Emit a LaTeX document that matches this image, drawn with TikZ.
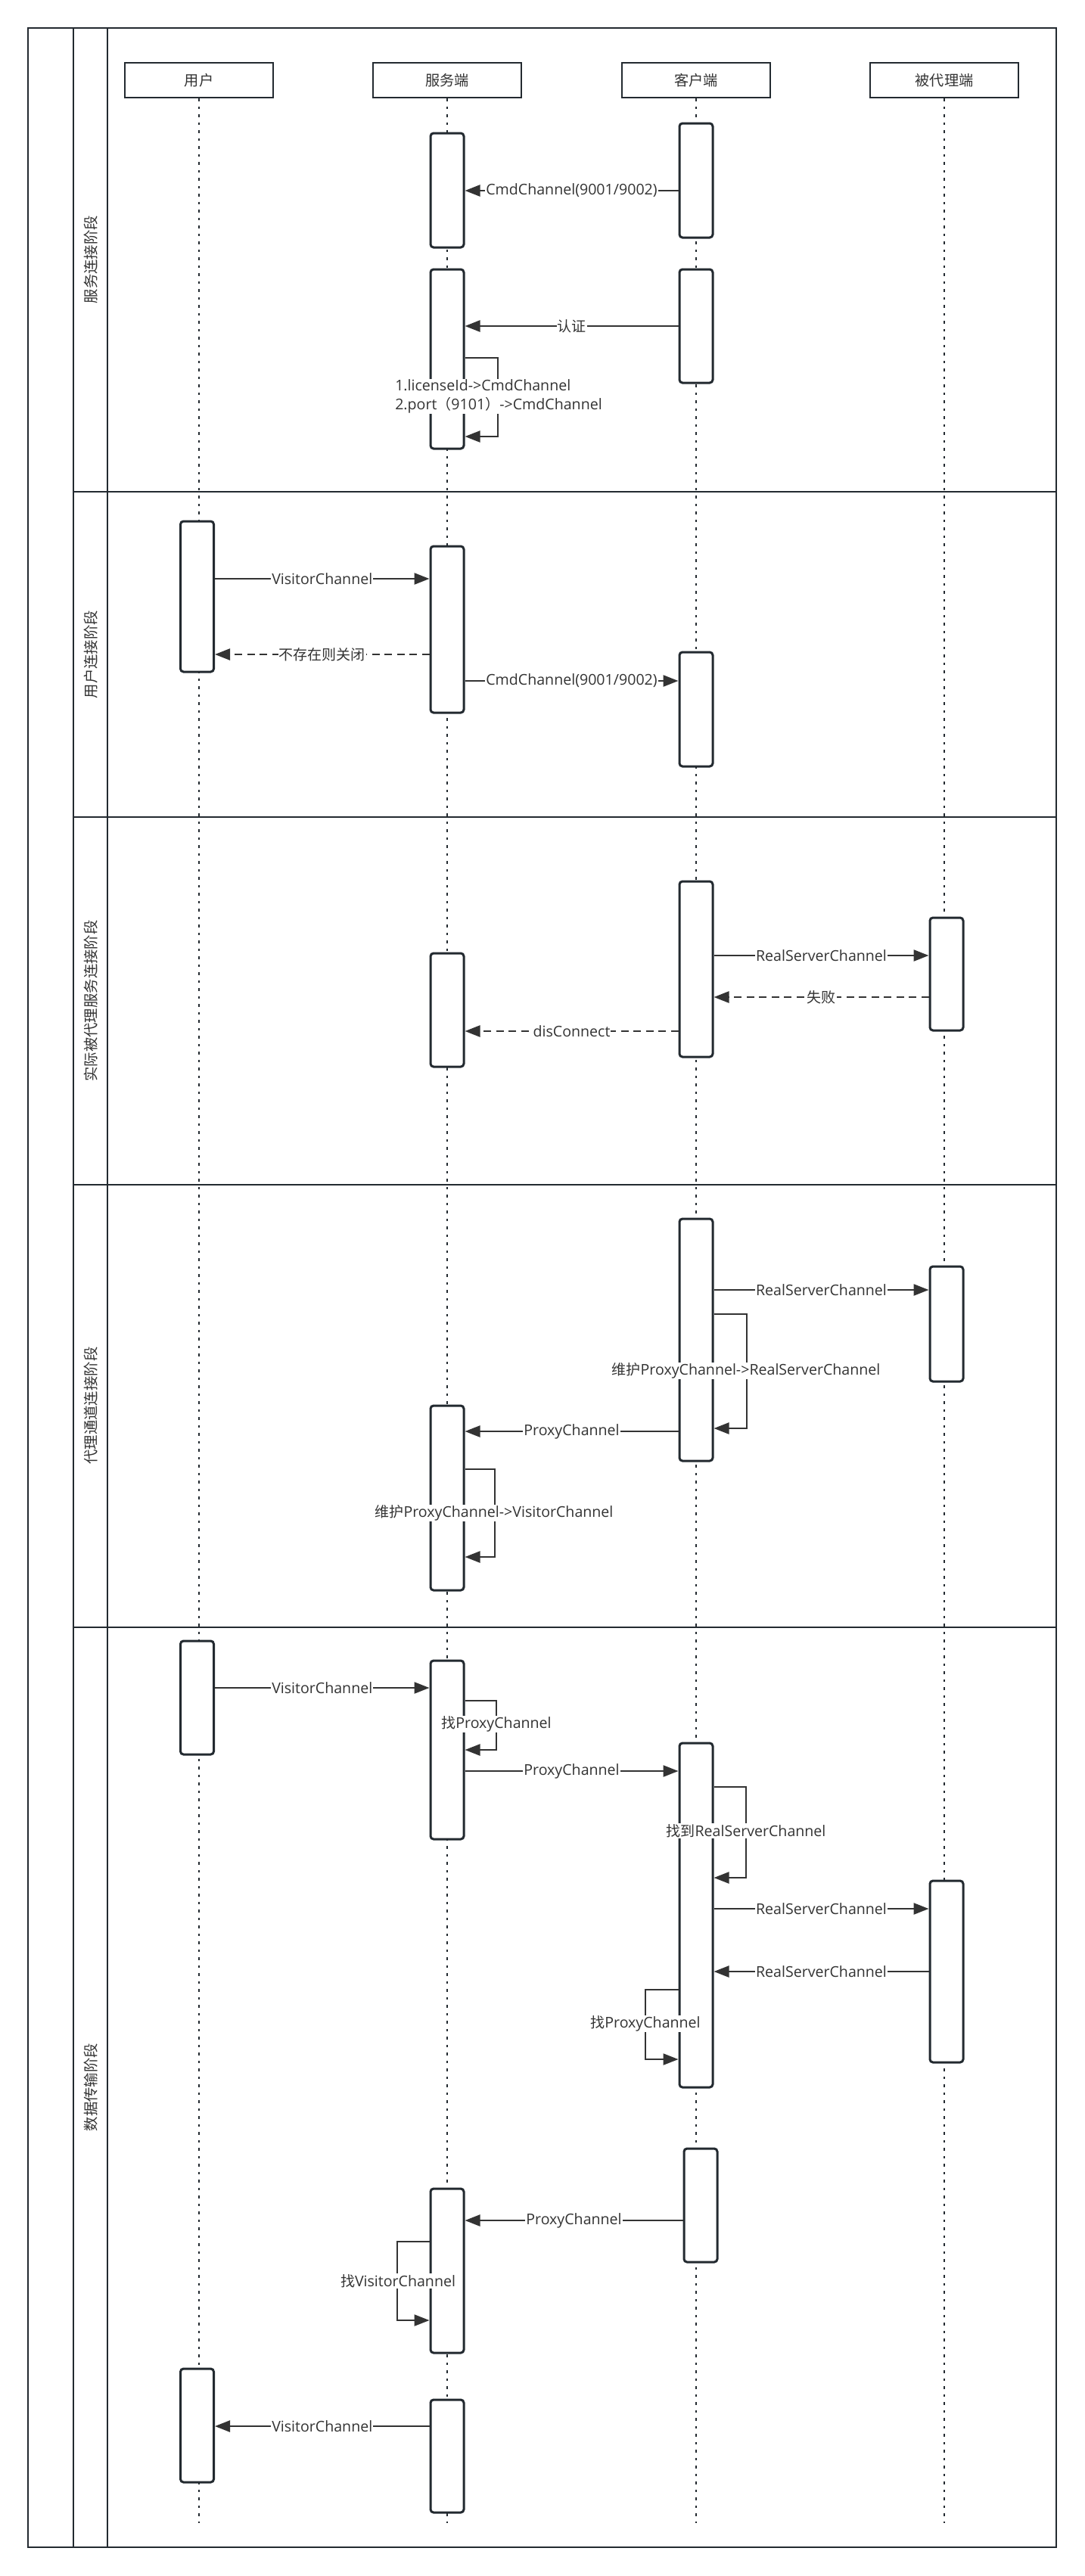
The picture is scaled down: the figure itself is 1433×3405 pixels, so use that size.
\documentclass[tikz,border=0pt]{standalone}
\usepackage{fontspec}
\setmainfont{Open Sans}
\newfontfamily\cjk{Noto Sans CJK SC}
\newcommand\zh[1]{{\cjk\fontsize{19}{24}\selectfont #1}}
\usetikzlibrary{arrows.meta}
\definecolor{framec}{RGB}{35,42,48}
\definecolor{txtc}{RGB}{51,51,51}
\definecolor{msgc}{RGB}{51,51,51}
\tikzset{
  lanel/.style={draw=framec, line width=2.7pt},
  head/.style={draw=framec, line width=2.7pt, fill=white, minimum width=196pt, minimum height=46pt, inner sep=0pt, text=txtc, font=\cjk\fontsize{19.2}{22}\selectfont},
  act/.style={draw=framec, line width=3pt, fill=white, rounded corners=4pt, minimum width=44pt, inner sep=0pt},
  life/.style={draw=framec, line width=2.7pt, dash pattern=on 3.5pt off 7pt},
  msg/.style={draw=msgc, line width=2.5pt, -{Triangle[length=20pt,width=15pt]}},
  ret/.style={msg, dash pattern=on 10pt off 6.5pt},
  selfloop/.style={draw=msgc, line width=2.3pt, -{Triangle[length=20pt,width=15pt]}},
  lbl/.style={fill=white, text=txtc, inner sep=1pt, font=\fontsize{19.6}{24.5}\selectfont},
  lanetxt/.style={rotate=90, text=txtc, inner sep=0pt, font=\cjk\fontsize{19.4}{22}\selectfont}
}
\begin{document}
\begin{tikzpicture}[x=1pt,y=-1pt]
\useasboundingbox (0,0) rectangle (1433,3405);
\fill[white] (0,0) rectangle (1433,3405);
% headers
\node[head] (hu) at (263,106) {用户};
\node[head] (hs) at (591,106) {服务端};
\node[head] (hc) at (920,106) {客户端};
\node[head] (hp) at (1248,106) {被代理端};
\coordinate (eu) at (263,3335);
\coordinate (es) at (591,3335);
\coordinate (ec) at (920,3335);
\coordinate (ep) at (1248,3335);
\draw[life] (hu.south) -- (eu);
\draw[life] (hs.south) -- (es);
\draw[life] (hc.south) -- (ec);
\draw[life] (hp.south) -- (ep);
% frame and lanes
\draw[lanel] (37,37) rectangle (1396,3367);
\draw[lanel] (97,37) -- (97,3367);
\draw[lanel] (142,37) -- (142,3367);
\draw[lanel] (97,650) -- (1396,650);
\draw[lanel] (97,1080) -- (1396,1080);
\draw[lanel] (97,1566) -- (1396,1566);
\draw[lanel] (97,2151) -- (1396,2151);
\node[lanetxt] (l1) at (120,343) {服务连接阶段};
\node[lanetxt] (l2) at (120,865) {用户连接阶段};
\node[lanetxt] (l3) at (120,1323) {实际被代理服务连接阶段};
\node[lanetxt] (l4) at (120,1858) {代理通道连接阶段};
\node[lanetxt] (l5) at (120,2759) {数据传输阶段};
% activation boxes
\node[act, minimum height=151pt] (s1) at (591,251.5) {};
\node[act, minimum height=151pt] (c1) at (920,238.5) {};
\node[act, minimum height=237pt] (s2) at (591,474.5) {};
\node[act, minimum height=150pt] (c2) at (920,431) {};
\node[act, minimum height=199pt] (u1) at (260.5,788.5) {};
\node[act, minimum height=220pt] (s3) at (591,832) {};
\node[act, minimum height=151pt] (c3) at (920,937.5) {};
\node[act, minimum height=232pt] (c4) at (920,1281) {};
\node[act, minimum height=149pt] (p1) at (1251,1287.5) {};
\node[act, minimum height=150pt] (s4) at (591,1335) {};
\node[act, minimum height=320pt] (c5) at (920,1771) {};
\node[act, minimum height=152pt] (p2) at (1251,1750) {};
\node[act, minimum height=244pt] (s5) at (591,1980) {};
\node[act, minimum height=150pt] (u2) at (260.5,2244) {};
\node[act, minimum height=236pt] (s6) at (591,2313) {};
\node[act, minimum height=455pt] (c6) at (920,2531.5) {};
\node[act, minimum height=240pt] (p3) at (1251,2606) {};
\node[act, minimum height=150pt] (c7) at (926,2915) {};
\node[act, minimum height=217pt] (s7) at (591,3001.5) {};
\node[act, minimum height=150pt] (u3) at (260.5,3206) {};
\node[act, minimum height=149pt] (s8) at (591,3246.5) {};
% phase 1
\draw[msg] (c1.west |- 0,252) -- node[lbl] (t1) {CmdChannel(9001/9002)} (s1.east |- 0,252);
\draw[msg] (c2.west |- 0,431) -- node[lbl] (t2) {\zh{认证}} (s2.east |- 0,431);
\draw[selfloop] (s2.east |- 0,473) -- (658,473) -- (658,577) -- (s2.east |- 0,577);
\node[lbl, align=left] (t3) at (659,524) {1.licenseId->CmdChannel\\2.port\zh{（}9101\zh{）}->CmdChannel};
% phase 2
\draw[msg] (u1.east |- 0,765) -- node[lbl] (t4) {VisitorChannel} (s3.west |- 0,765);
\draw[ret] (s3.west |- 0,865) -- node[lbl] (t5) {\zh{不存在则关闭}} (u1.east |- 0,865);
\draw[msg] (s3.east |- 0,900) -- node[lbl] (t6) {CmdChannel(9001/9002)} (c3.west |- 0,900);
% phase 3
\draw[msg] (c4.east |- 0,1263) -- node[lbl] (t7) {RealServerChannel} (p1.west |- 0,1263);
\draw[ret] (p1.west |- 0,1318) -- node[lbl] (t8) {\zh{失败}} (c4.east |- 0,1318);
\draw[ret] (c4.west |- 0,1363) -- node[lbl] (t9) {disConnect} (s4.east |- 0,1363);
% phase 4
\draw[msg] (c5.east |- 0,1705) -- node[lbl] (t10) {RealServerChannel} (p2.west |- 0,1705);
\draw[selfloop] (c5.east |- 0,1737) -- (987,1737) -- (987,1888) -- (c5.east |- 0,1888);
\node[lbl] (t11) at (986,1812) {\zh{维护}ProxyChannel->RealServerChannel};
\draw[msg] (c5.west |- 0,1892) -- node[lbl] (t12) {ProxyChannel} (s5.east |- 0,1892);
\draw[selfloop] (s5.east |- 0,1942) -- (654,1942) -- (654,2058) -- (s5.east |- 0,2058);
\node[lbl] (t13) at (653,2000) {\zh{维护}ProxyChannel->VisitorChannel};
% phase 5
\draw[msg] (u2.east |- 0,2231) -- node[lbl] (t14) {VisitorChannel} (s6.west |- 0,2231);
\draw[selfloop] (s6.east |- 0,2248) -- (656,2248) -- (656,2313) -- (s6.east |- 0,2313);
\node[lbl] (t15) at (656,2279) {\zh{找}ProxyChannel};
\draw[msg] (s6.east |- 0,2341) -- node[lbl] (t16) {ProxyChannel} (c6.west |- 0,2341);
\draw[selfloop] (c6.east |- 0,2362) -- (986,2362) -- (986,2482) -- (c6.east |- 0,2482);
\node[lbl] (t17) at (986,2420) {\zh{找到}RealServerChannel};
\draw[msg] (c6.east |- 0,2523) -- node[lbl] (t18) {RealServerChannel} (p3.west |- 0,2523);
\draw[msg] (p3.west |- 0,2606) -- node[lbl] (t19) {RealServerChannel} (c6.east |- 0,2606);
\draw[selfloop] (c6.west |- 0,2630) -- (853,2630) -- (853,2722) -- (c6.west |- 0,2722);
\node[lbl] (t20) at (853,2675) {\zh{找}ProxyChannel};
\draw[msg] (c7.west |- 0,2935) -- node[lbl] (t21) {ProxyChannel} (s7.east |- 0,2935);
\draw[selfloop] (s7.west |- 0,2963) -- (525,2963) -- (525,3067) -- (s7.west |- 0,3067);
\node[lbl] (t22) at (526,3015) {\zh{找}VisitorChannel};
\draw[msg] (s8.west |- 0,3207) -- node[lbl] (t23) {VisitorChannel} (u3.east |- 0,3207);
\end{tikzpicture}
\end{document}
